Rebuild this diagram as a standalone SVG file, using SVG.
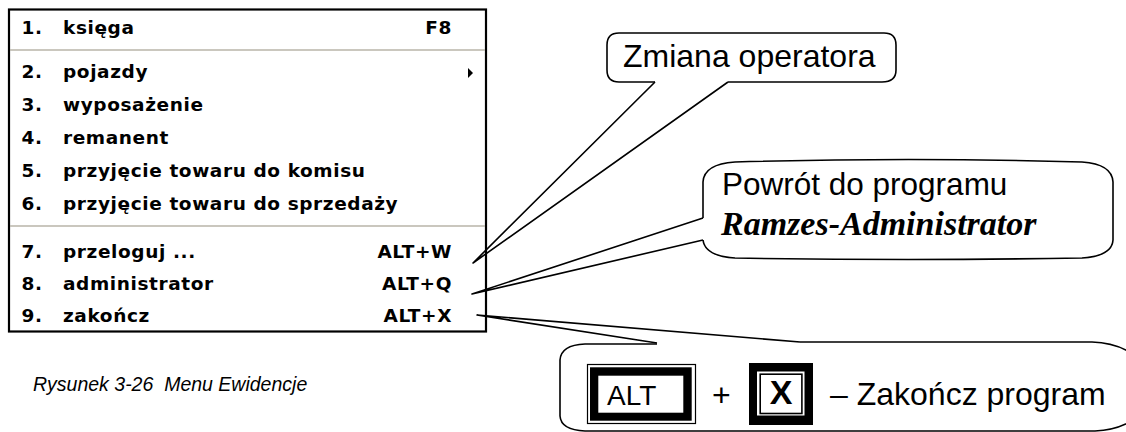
<svg xmlns="http://www.w3.org/2000/svg" width="1126" height="432" viewBox="0 0 1126 432">
  <style>
    .menu { font-family: "DejaVu Sans", Verdana, sans-serif; font-weight: bold; font-size: 18.5px; letter-spacing: 0.6px; fill: #000; }
    .key { text-anchor: end; }
    .sep { stroke: #b8b4a8; stroke-width: 1.5; }
    .outline { fill: none; stroke: #000; stroke-width: 1.6; stroke-linejoin: round; }
    .note { font-family: "Liberation Sans", Arial, sans-serif; font-size: 32px; fill: #000; }
    .strong { font-family: "Liberation Serif", "Times New Roman", serif; font-size: 34px; font-weight: bold; font-style: italic; fill: #000; }
    .caption { font-family: "Liberation Sans", Arial, sans-serif; font-size: 19.5px; font-style: italic; fill: #000; }
  </style>

  <rect width="1126" height="432" fill="#fff"/>

  <!-- Program menu -->
  <g id="menu">
    <rect x="9" y="9.5" width="477" height="322" fill="#fff" stroke="#000" stroke-width="2.2"/>
    <line class="sep" x1="10" y1="50" x2="485" y2="50"/>
    <line class="sep" x1="10" y1="226" x2="485" y2="226"/>
    <g class="menu">
      <text x="21.5" y="34">1.</text><text x="63" y="34">księga</text><text class="key" x="452" y="34">F8</text>
      <text x="21.5" y="78">2.</text><text x="63" y="78">pojazdy</text>
      <text x="21.5" y="111">3.</text><text x="63" y="111">wyposażenie</text>
      <text x="21.5" y="144">4.</text><text x="63" y="144">remanent</text>
      <text x="21.5" y="177">5.</text><text x="63" y="177">przyjęcie towaru do komisu</text>
      <text x="21.5" y="210">6.</text><text x="63" y="210">przyjęcie towaru do sprzedaży</text>
      <text x="21.5" y="258">7.</text><text x="63" y="258">przeloguj ...</text><text class="key" x="452" y="258">ALT+W</text>
      <text x="21.5" y="290">8.</text><text x="63" y="290">administrator</text><text class="key" x="452" y="290">ALT+Q</text>
      <text x="21.5" y="322">9.</text><text x="63" y="322">zakończ</text><text class="key" x="452" y="322">ALT+X</text>
    </g>
    <polygon points="468,68 473,73 468,78" fill="#000"/>
  </g>

  <!-- Callout: change operator -->
  <g id="callout-operator">
    <path class="outline" d="M728,82 H882 Q896,82 896,70 V45 Q896,33 884,33 H619 Q607,33 607,45 V70 Q607,82 619,82 H655"/>
    <text class="note" x="623" y="67">Zmiana operatora</text>
  </g>

  <!-- Callout: back to the administrator program -->
  <g id="callout-admin">
    <path class="outline" d="M703,218 V182 Q704,164 735,162 Q908,157 1082,162 Q1112,164 1113,182 V240 Q1112,256 1082,258 Q908,261 735,258 Q705,256 703,240"/>
    <text class="note" x="722" y="195" style="font-size:31.5px">Powrót do programu</text>
    <text class="strong" x="721" y="235">Ramzes-Administrator</text>
  </g>

  <!-- Callout: ALT + X quits -->
  <g id="callout-exit">
    <path class="outline" d="M800,342 H1092 Q1122,343 1140,360 V415 Q1122,430 1095,431 H585 Q561,430 560,416 V360 Q561,345 585,344 H657"/>
    <g id="key-alt">
      <rect x="587.5" y="364.5" width="108" height="59" fill="none" stroke="#000" stroke-width="1.2"/>
      <rect x="590" y="367.3" width="101.7" height="53.4" fill="#000"/>
      <rect x="598.3" y="375.7" width="85" height="37" fill="#fff"/>
      <text class="note" x="607" y="405" style="font-size:28px">ALT</text>
    </g>
    <text class="note" x="712" y="406">+</text>
    <g id="key-x">
      <rect x="749" y="363" width="64" height="62" fill="#000"/>
      <rect x="757" y="371.5" width="47.5" height="44" fill="#fff"/>
      <rect x="760.2" y="374.2" width="41.7" height="39.3" fill="none" stroke="#000" stroke-width="1.6"/>
      <text class="note" x="781" y="404" text-anchor="middle" style="font-size:34px;font-weight:bold">X</text>
    </g>
    <text class="note" x="830" y="405">– Zakończ program</text>
  </g>

  <!-- Callout pointers -->
  <g id="connectors">
    <polyline class="outline" points="655,82 473,263 728,82"/>
    <polyline class="outline" points="703,218 472,294 703,240"/>
    <polyline class="outline" points="657,343 477,315 800,342"/>
  </g>

  <text class="caption" x="33" y="391" xml:space="preserve">Rysunek 3-26  Menu Ewidencje</text>
</svg>
